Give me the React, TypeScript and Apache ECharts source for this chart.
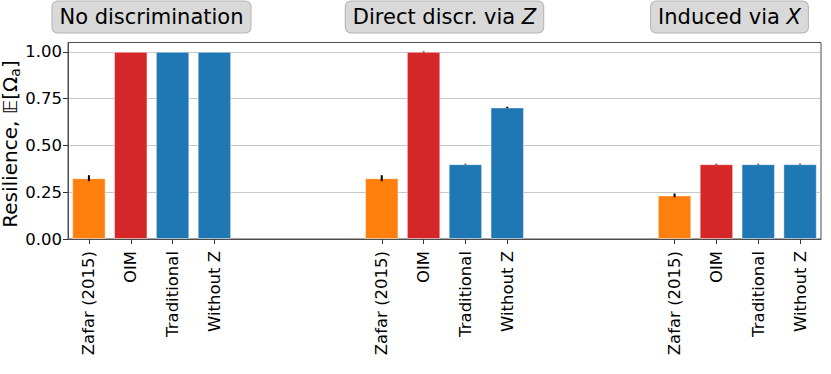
import React, { useEffect, useRef } from 'react';
import * as echarts from 'echarts';

const methods = ['Zafar (2015)', 'OIM', 'Traditional', 'Without Z'];
const methodColors = ['#ff7f0e', '#d62728', '#1f77b4', '#1f77b4'];
const scenarios = ['No discrimination', 'Direct discr. via {it|Z}', 'Induced via {it|X}'];
const noDiscrValues = [0.325, 1.0, 1.0, 1.0];
const directValues = [0.325, 1.0, 0.4, 0.703];
const inducedValues = [0.233, 0.4, 0.4, 0.4];
const noDiscrErr = [0.016, 0, 0, 0];
const directErr = [0.016, 0.002, 0.002, 0.004];
const inducedErr = [0.01, 0.002, 0.002, 0.002];
const yTicks = [0, 0.25, 0.5, 0.75, 1.0];
const yMax = 1.05;
const gapSlots = 3;
const yAxisTitle = 'Resilience, 𝔼[Ω{sub|a}]';

// layout (pixels)
const titleCenters = [151.5, 444.5, 729.5];
const FONT = 'DejaVu Sans';

export default function App() {
  const ref = useRef<HTMLDivElement>(null);
  useEffect(() => {
    if (!ref.current) return;
    const chart = echarts.init(ref.current, undefined, { renderer: 'svg' });

    const groups = [noDiscrValues, directValues, inducedValues];
    const errs = [noDiscrErr, directErr, inducedErr];
    const categories: string[] = [];
    const barData: any[] = [];
    const errData: number[][] = [];
    const isGap: boolean[] = [];
    groups.forEach((vals, g) => {
      methods.forEach((m, i) => {
        const idx = categories.length;
        categories.push(`${g}|${m}`);
        isGap.push(false);
        barData.push({ value: vals[i], itemStyle: { color: methodColors[i] } });
        if (errs[g][i] > 0) errData.push([idx, vals[i], errs[g][i]]);
      });
      if (g < groups.length - 1) {
        for (let k = 0; k < gapSlots; k++) {
          categories.push(`gap${g}-${k}`);
          isGap.push(true);
          barData.push('-');
        }
      }
    });

    const titleBoxes = scenarios.map((s, g) => ({
      type: 'text',
      x: titleCenters[g],
      y: 17,
      z: 10,
      style: {
        text: s,
        align: 'center',
        verticalAlign: 'middle',
        fontFamily: FONT,
        fontSize: 21,
        fill: '#000',
        backgroundColor: '#d9d9d9',
        borderColor: '#b3b3b3',
        borderWidth: 1,
        borderRadius: 5,
        padding: [5, 7, 5, 7],
        rich: {
          it: { fontFamily: FONT, fontSize: 21, fontStyle: 'italic', fill: '#000' },
        },
      },
    }));

    const yTitle = {
      type: 'text',
      x: 10,
      y: 144,
      rotation: Math.PI / 2,
      z: 10,
      style: {
        text: yAxisTitle,
        align: 'center',
        verticalAlign: 'middle',
        fontFamily: FONT,
        fontSize: 20,
        fill: '#000',
        rich: {
          sub: { fontFamily: FONT, fontSize: 14, fill: '#000', padding: [10, 0, 0, 0] },
        },
      },
    };

    const option: any = {
      animation: false,
      backgroundColor: '#ffffff',
      grid: {
        left: 68,
        right: 10,
        top: 42.5,
        bottom: 135,
        containLabel: false,
        outerBoundsMode: 'none',
        show: true,
        borderColor: '#4d4d4d',
        borderWidth: 1,
        backgroundColor: 'transparent',
      },
      xAxis: {
        type: 'category',
        data: categories,
        boundaryGap: true,
        axisLine: { show: true, lineStyle: { color: '#4d4d4d', width: 1 } },
        axisTick: {
          show: true,
          alignWithLabel: true,
          length: 5,
          interval: (i: number) => !isGap[i],
          lineStyle: { color: '#333' },
        },
        axisLabel: {
          interval: 0,
          rotate: 90,
          margin: 12,
          color: '#000',
          fontFamily: FONT,
          fontSize: 16.5,
          formatter: (v: string) => (v.indexOf('|') >= 0 ? v.split('|')[1] : ''),
        },
        splitLine: { show: false },
      },
      yAxis: {
        type: 'value',
        min: 0,
        max: yMax,
        interval: 0.25,
        axisLine: { show: true, lineStyle: { color: '#4d4d4d', width: 1 } },
        axisTick: { show: true, length: 5, lineStyle: { color: '#333' }, customValues: yTicks },
        axisLabel: {
          color: '#000',
          fontFamily: FONT,
          fontSize: 16.5,
          margin: 6,
          customValues: yTicks,
          formatter: (v: number) => v.toFixed(2),
        },
        splitLine: { show: true, lineStyle: { color: '#c8c8c8', width: 1 } },
      },
      series: [
        {
          type: 'bar',
          data: barData,
          barWidth: '80%',
          itemStyle: { borderColor: 'rgba(255,255,255,0.45)', borderWidth: 1 },
          z: 2,
        },
        {
          type: 'custom',
          data: errData,
          encode: { x: 0, y: 1 },
          z: 5,
          renderItem: (params: any, api: any) => {
            const x = api.value(0);
            const v = api.value(1);
            const e = api.value(2);
            const p1 = api.coord([x, v - e]);
            const p2 = api.coord([x, v + e]);
            return {
              type: 'line',
              shape: { x1: p1[0], y1: p1[1], x2: p2[0], y2: p2[1] },
              style: { stroke: '#000', lineWidth: 2 },
            };
          },
        },
      ],
      graphic: [...titleBoxes, yTitle],
    };
    chart.setOption(option);
    return () => chart.dispose();
  }, []);
  return <div ref={ref} style={{ width: 831, height: 374, position: 'absolute', left: 0, top: 0 }} />;
}
